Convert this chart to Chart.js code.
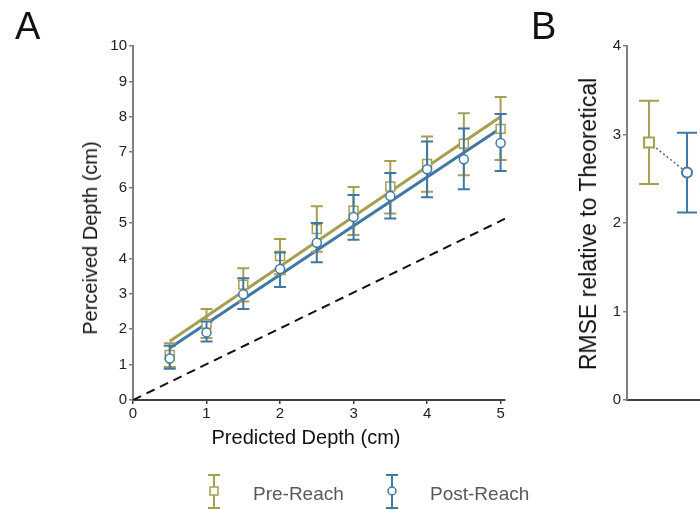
<!DOCTYPE html>
<html>
<head>
<meta charset="utf-8">
<script src="https://cdn.jsdelivr.net/npm/chart.js@4.4.1/dist/chart.umd.min.js"></script>
<style>
  html, body { margin: 0; padding: 0; background: #fff; overflow: hidden; }
  body { width: 700px; height: 510px; position: relative; font-family: "Liberation Sans", Arial, sans-serif; }
  canvas { position: absolute; top: 0; }
  #chartDepth { left: 0; }
  #chartRmse { left: 520px; }
  .txt { position: absolute; white-space: nowrap; color: #111; }
  .panel { font-size: 38px; line-height: 38px; }
  .axis-title { font-size: 20px; line-height: 24px; transform: translate(-50%, -50%); }
  .axis-title.vert { transform: translate(-50%, -50%) rotate(-90deg); }
  .legend-label { font-size: 19px; line-height: 24px; color: #595959; top: 482px; }
  svg { position: absolute; }
</style>
</head>
<body>
<canvas id="chartDepth" width="560" height="450"></canvas>
<canvas id="chartRmse" width="240" height="450"></canvas>

<div class="txt panel" style="left:15px; top:7px;">A</div>
<div class="txt panel" style="left:531px; top:7px;">B</div>
<div class="txt axis-title" style="left:306px; top:437px;">Predicted Depth (cm)</div>
<div class="txt axis-title vert" style="left:90px; top:238px;">Perceived Depth (cm)</div>
<div class="txt axis-title vert" style="left:588px; top:224px; font-size:23px; line-height:28px;">RMSE relative to Theoretical</div>

<!-- legend -->
<svg width="16" height="36" style="left:206px; top:473px;">
  <g stroke="#a69f52" stroke-width="2" fill="none">
    <line x1="8" y1="2" x2="8" y2="35"/>
    <line x1="2" y1="2" x2="14" y2="2"/>
    <line x1="2" y1="35" x2="14" y2="35"/>
  </g>
  <rect x="4" y="14" width="8" height="8" fill="#fff" stroke="#a69f52" stroke-width="1.5"/>
</svg>
<div class="txt legend-label" style="left:253px;">Pre-Reach</div>
<svg width="16" height="36" style="left:384px; top:473px;">
  <g stroke="#3f79a3" stroke-width="2" fill="none">
    <line x1="8" y1="2" x2="8" y2="35"/>
    <line x1="2" y1="2" x2="14" y2="2"/>
    <line x1="2" y1="35" x2="14" y2="35"/>
  </g>
  <circle cx="8" cy="18" r="4" fill="#fff" stroke="#3f79a3" stroke-width="1.5"/>
</svg>
<div class="txt legend-label" style="left:430px;">Post-Reach</div>

<script>
// depth judgements, panel A
const depthX = [0.5, 1, 1.5, 2, 2.5, 3, 3.5, 4, 4.5, 5];
const preMean = [1.27, 2.15, 3.26, 4.07, 4.83, 5.35, 6.03, 6.67, 7.24, 7.66];
const preLow = [0.93, 1.75, 2.78, 3.55, 4.19, 4.66, 5.27, 5.88, 6.35, 6.78];
const preHigh = [1.60, 2.57, 3.72, 4.55, 5.47, 6.02, 6.75, 7.44, 8.10, 8.56];
const postMean = [1.17, 1.91, 2.99, 3.70, 4.44, 5.17, 5.76, 6.52, 6.80, 7.26];
const postLow = [0.88, 1.65, 2.57, 3.19, 3.89, 4.53, 5.13, 5.73, 5.95, 6.47];
const postHigh = [1.53, 2.22, 3.44, 4.17, 5.00, 5.79, 6.41, 7.30, 7.67, 8.08];

// regression lines and theoretical prediction
const fitX = [0.5, 5];
const preFit = [1.66, 8.0];
const postFit = [1.47, 7.68];
const theoryX = [0, 5.06];
const theoryY = [0, 5.12];

const depthTicksX = [0, 1, 2, 3, 4, 5];
const depthTicksY = [0, 1, 2, 3, 4, 5, 6, 7, 8, 9, 10];

// RMSE, panel B
const rmseX = [1, 2];
const rmse = [2.91, 2.57];
const rmseLow = [2.44, 2.12];
const rmseHigh = [3.38, 3.02];
const rmseTicksY = [0, 1, 2, 3, 4];

const olive = "#a69f52";
const blue = "#3f79a3";
const font = { family: "'Liberation Sans', Arial, sans-serif", size: 15 };

const pts = (xs, ys) => xs.map((x, i) => ({ x: x, y: ys[i] }));
const setTicks = vals => scale => { scale.ticks = vals.map(v => ({ value: v })); };

// vertical error bars with caps, drawn just under each marker dataset
const errorBars = {
    id: "errorBars",
    beforeDatasetDraw(chart, args) {
        const ds = chart.data.datasets[args.index];
        if (!ds.errLow) return;
        const xs = chart.scales.x, ys = chart.scales.y;
        const ctx = chart.ctx;
        const c = ds.capWidth / 2;
        ctx.save();
        ctx.strokeStyle = ds.borderColor;
        ctx.lineWidth = 2;
        ds.data.forEach((p, i) => {
            const px = xs.getPixelForValue(p.x);
            const lo = ys.getPixelForValue(ds.errLow[i]);
            const hi = ys.getPixelForValue(ds.errHigh[i]);
            ctx.beginPath();
            ctx.moveTo(px, lo); ctx.lineTo(px, hi);
            ctx.moveTo(px - c, lo); ctx.lineTo(px + c, lo);
            ctx.moveTo(px - c, hi); ctx.lineTo(px + c, hi);
            ctx.stroke();
        });
        ctx.restore();
    }
};

function yAxis(min, max, ticks, width) {
    return {
        min: min, max: max,
        afterBuildTicks: setTicks(ticks),
        afterFit: s => { s.width = width; },
        ticks: { color: "#222", font: font, padding: 2 },
        grid: { drawOnChartArea: false, tickLength: 4, color: "#808080", lineWidth: 1.5 },
        border: { color: "#808080", width: 2 }
    };
}

window.onload = () => {
    new Chart(document.getElementById("chartDepth"), {
        type: "scatter",
        data: {
            datasets: [
                { label: "Post-Reach", data: pts(depthX, postMean), errLow: postLow, errHigh: postHigh, capWidth: 12,
                  borderColor: blue, backgroundColor: "#fff", pointStyle: "circle", pointRadius: 4.5, borderWidth: 1.5, clip: false },
                { label: "Pre-Reach", data: pts(depthX, preMean), errLow: preLow, errHigh: preHigh, capWidth: 12,
                  borderColor: olive, backgroundColor: "#fff", pointStyle: "rect", pointRadius: 6.3, borderWidth: 1.5, clip: false },
                { label: "Post fit", data: pts(fitX, postFit), showLine: true, borderColor: blue, borderWidth: 3, pointRadius: 0 },
                { label: "Pre fit", data: pts(fitX, preFit), showLine: true, borderColor: olive, borderWidth: 3, pointRadius: 0 },
                { label: "Theoretical", data: pts(theoryX, theoryY), showLine: true, borderColor: "#111", borderWidth: 2,
                  borderDash: [9, 6], pointRadius: 0 }
            ]
        },
        options: {
            responsive: false,
            animation: false,
            devicePixelRatio: 1,
            layout: { padding: { left: 0, right: 55, top: 46, bottom: 0 } },
            plugins: { legend: { display: false }, tooltip: { enabled: false } },
            scales: {
                x: {
                    min: 0, max: 5.06,
                    afterBuildTicks: setTicks(depthTicksX),
                    afterFit: s => { s.height = 50; },
                    ticks: { color: "#222", font: font, padding: 1, maxRotation: 0 },
                    grid: { drawOnChartArea: false, tickLength: 4, color: "#404040", lineWidth: 1.5 },
                    border: { color: "#404040", width: 2 }
                },
                y: yAxis(0, 10, depthTicksY, 133)
            }
        },
        plugins: [errorBars]
    });

    new Chart(document.getElementById("chartRmse"), {
        type: "scatter",
        data: {
            datasets: [
                { label: "Post-Reach", data: [{ x: rmseX[1], y: rmse[1] }], errLow: [rmseLow[1]], errHigh: [rmseHigh[1]], capWidth: 20,
                  borderColor: blue, backgroundColor: "#fff", pointStyle: "circle", pointRadius: 5, borderWidth: 2, clip: false },
                { label: "Pre-Reach", data: [{ x: rmseX[0], y: rmse[0] }], errLow: [rmseLow[0]], errHigh: [rmseHigh[0]], capWidth: 20,
                  borderColor: olive, backgroundColor: "#fff", pointStyle: "rect", pointRadius: 7, borderWidth: 2, clip: false },
                { label: "change", data: pts(rmseX, rmse), showLine: true, borderColor: "#666", borderWidth: 1.5,
                  borderDash: [2, 2.5], pointRadius: 0 }
            ]
        },
        options: {
            responsive: false,
            animation: false,
            devicePixelRatio: 1,
            layout: { padding: { left: 0, right: 16, top: 46, bottom: 0 } },
            plugins: { legend: { display: false }, tooltip: { enabled: false } },
            scales: {
                x: {
                    min: 0.42, max: 3.5,
                    afterFit: s => { s.height = 50; },
                    ticks: { display: false },
                    grid: { display: false },
                    border: { color: "#404040", width: 2 }
                },
                y: yAxis(0, 4, rmseTicksY, 107)
            }
        },
        plugins: [errorBars]
    });
};
</script>
</body>
</html>
